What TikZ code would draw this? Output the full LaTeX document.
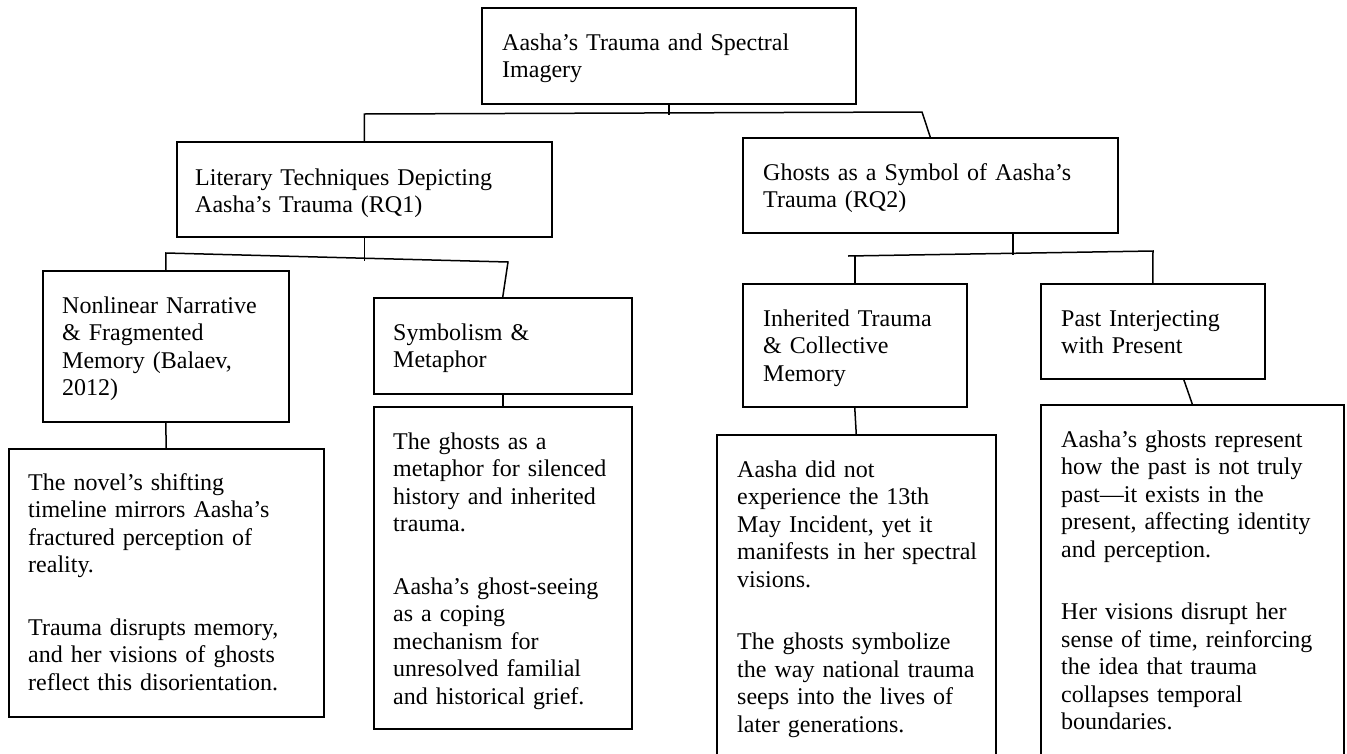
\documentclass[tikz,border=0pt]{standalone}
\usepackage{fontspec}
\setmainfont{Liberation Serif}
\usetikzlibrary{calc}
\tikzset{
  box/.style={draw=black, line width=1.5pt, inner sep=0pt, anchor=north west, rectangle},
  txt/.style={anchor=base west, inner sep=0pt, text width=330pt, align=left,
              font=\fontsize{24}{27.5}\selectfont},
  conn/.style={draw=black, line width=1.5pt}
}
\begin{document}
\begin{tikzpicture}[x=1pt, y=-1pt]
\path[use as bounding box, fill=white] (0,0) rectangle (1347,753);
\begin{scope}
\clip (0,0) rectangle (1347,753);
% boxes
\node[box, minimum width=374pt, minimum height=96pt] (root) at (481,7) {};
\node[box, minimum width=375pt, minimum height=95pt] (L1) at (176,141) {};
\node[box, minimum width=375pt, minimum height=95pt] (R1) at (742,137) {};
\node[box, minimum width=246pt, minimum height=151pt] (NL) at (42,270) {};
\node[box, minimum width=258pt, minimum height=96pt] (SY) at (373,297) {};
\node[box, minimum width=224pt, minimum height=123pt] (IN) at (742,283) {};
\node[box, minimum width=224pt, minimum height=95pt] (PA) at (1040,283) {};
\node[box, minimum width=315pt, minimum height=268pt] (NLT) at (8,448) {};
\node[box, minimum width=258pt, minimum height=322pt] (SYT) at (373,406) {};
\node[box, minimum width=279pt, minimum height=340pt] (INT) at (716,434) {};
\node[box, minimum width=303pt, minimum height=370pt] (PAT) at (1040,404) {};
% texts
\node[txt] (rootT) at (502,50) {Aasha’s Trauma and Spectral\\ Imagery};
\node[txt] (L1T) at (195,185) {Literary Techniques Depicting\\ Aasha’s Trauma (RQ1)};
\node[txt] (R1T) at (763,180) {Ghosts as a Symbol of Aasha’s\\ Trauma (RQ2)};
\node[txt] (NLTx) at (62,313) {Nonlinear Narrative\\ \& Fragmented\\ Memory (Balaev,\\ 2012)};
\node[txt] (SYTx) at (393,340) {Symbolism \&\\ Metaphor};
\node[txt] (INTx) at (763,326) {Inherited Trauma\\ \& Collective\\ Memory};
\node[txt] (PATx) at (1061,326) {Past Interjecting\\ with Present};
\node[txt] (NLTT) at (28,490) {The novel’s shifting\\ timeline mirrors Aasha’s\\ fractured perception of\\ reality.\\[35pt] Trauma disrupts memory,\\ and her visions of ghosts\\ reflect this disorientation.};
\node[txt] (SYTT) at (393,449) {The ghosts as a\\ metaphor for silenced\\ history and inherited\\ trauma.\\[35pt] Aasha’s ghost-seeing\\ as a coping\\ mechanism for\\ unresolved familial\\ and historical grief.};
\node[txt] (INTT) at (737,477) {Aasha did not\\ experience the 13th\\ May Incident, yet it\\ manifests in her spectral\\ visions.\\[35pt] The ghosts symbolize\\ the way national trauma\\ seeps into the lives of\\ later generations.};
\node[txt] (PATT) at (1061,447) {Aasha’s ghosts represent\\ how the past is not truly\\ past—it exists in the\\ present, affecting identity\\ and perception.\\[35pt] Her visions disrupt her\\ sense of time, reinforcing\\ the idea that trauma\\ collapses temporal\\ boundaries.};
% connectors, level 1
\coordinate (h1R) at (922,112);
\draw[conn] (root.south) -- ++(0,10);
\draw[conn] (L1.north) -- ++(0,-27) coordinate (h1L) -- (h1R) -- (R1.north);
% level 2 left
\coordinate (h2R) at (508,262);
\draw[conn] (L1.south) -- ++(0,23);
\draw[conn] (NL.north) -- ++(0,-17) coordinate (h2L) -- (h2R) -- (SY.north);
% level 2 right
\coordinate (h3L) at (848,256);
\coordinate (h3R) at (1153,251);
\draw[conn] ($(R1.south)+(82.5,0)$) -- ++(0,21);
\draw[conn] (h3L) -- (h3R) -- (PA.north);
\draw[conn] (IN.north) -- ++(0,-27);
% level 3
\draw[conn] (NL.south) -- (NLT.north);
\draw[conn] (SY.south) -- (SYT.north);
\draw[conn] (IN.south) -- (INT.north);
\draw[conn] ($(PA.south)+(31,0)$) -- (PAT.north);
\end{scope}
\end{tikzpicture}
\end{document}
